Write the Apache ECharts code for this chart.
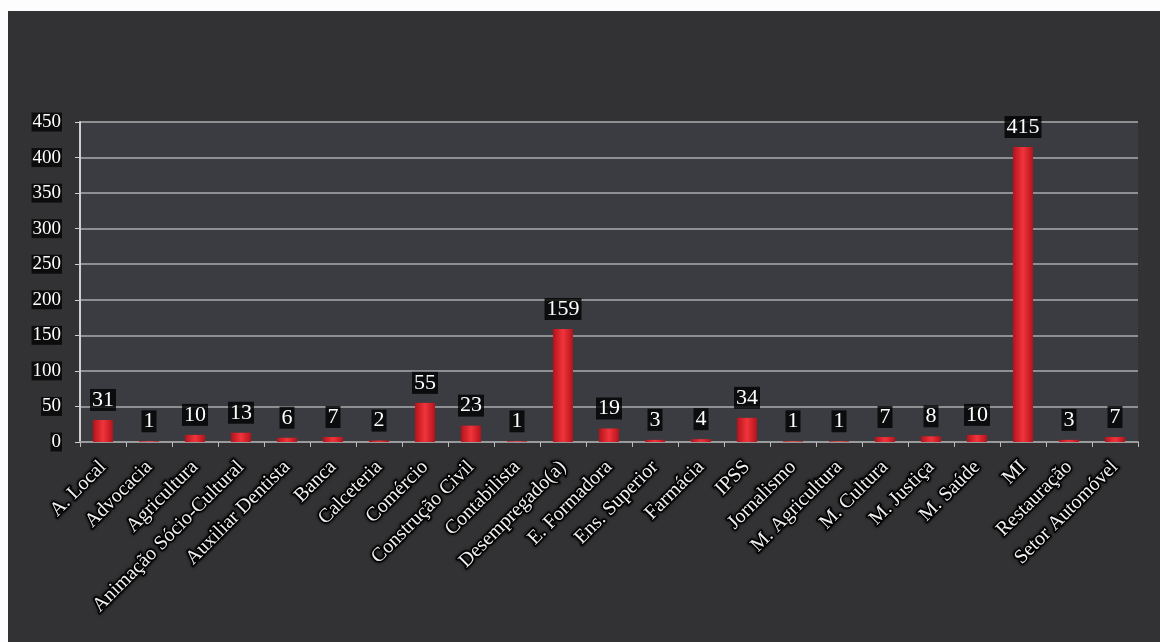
<!DOCTYPE html>
<html>
<head>
<meta charset="utf-8">
<script src="https://cdn.jsdelivr.net/npm/echarts@6/dist/echarts.min.js"></script>
<style>
  html, body { margin: 0; padding: 0; background: #ffffff; }
  #wrap { position: absolute; left: 0; top: 0; width: 1160px; height: 642px; background: #fdfdfd; }
  #chart { position: absolute; left: 8px; top: 11px; width: 1152px; height: 631px; }
</style>
</head>
<body>
<div id="wrap"><div id="chart"></div></div>
<script>
// Number of people per sector
const categories = [
  'A. Local', 'Advocacia', 'Agricultura', 'Animação Sócio-Cultural', 'Auxiliar Dentista',
  'Banca', 'Calceteria', 'Comércio', 'Construção Civil', 'Contabilista',
  'Desempregado(a)', 'E. Formadora', 'Ens. Superior', 'Farmácia', 'IPSS',
  'Jornalismo', 'M. Agricultura', 'M. Cultura', 'M. Justiça', 'M. Saúde',
  'MI', 'Restauração', 'Setor Automóvel'
];
const counts = [31, 1, 10, 13, 6, 7, 2, 55, 23, 1, 159, 19, 3, 4, 34, 1, 1, 7, 8, 10, 415, 3, 7];
const yTicks = { min: 0, max: 450, step: 50 };

const serif = '"Liberation Serif", "DejaVu Serif", serif';
const chart = echarts.init(document.getElementById('chart'));

chart.setOption({
  backgroundColor: '#323234',
  animation: false,
  grid: {
    left: 72, right: 22, top: 111, bottom: 200,
    show: true, backgroundColor: '#3a3c41', borderWidth: 0
  },
  xAxis: {
    type: 'category',
    data: categories,
    axisLine: { lineStyle: { color: '#9a9a9a', width: 2 } },
    axisTick: { show: true, alignWithLabel: false, length: 5, lineStyle: { color: '#bbbbbb' } },
    axisLabel: {
      interval: 0, rotate: 45, margin: 22,
      color: '#f0f0f0', fontFamily: serif, fontSize: 20,
      textBorderColor: '#000', textBorderWidth: 3,
      textShadowColor: '#000', textShadowBlur: 3
    }
  },
  yAxis: {
    type: 'value',
    min: yTicks.min, max: yTicks.max, interval: yTicks.step,
    axisLine: { show: true, lineStyle: { color: '#cfcfcf', width: 2 } },
    axisTick: { show: true, length: 5, lineStyle: { color: '#cfcfcf' } },
    splitLine: { lineStyle: { color: '#8e8f92', width: 2 } },
    axisLabel: {
      color: '#ffffff', fontFamily: serif, fontSize: 19, margin: 18,
      backgroundColor: 'rgba(0,0,0,0.75)', padding: [0, 1]
    }
  },
  series: [{
    type: 'bar',
    data: counts,
    barWidth: 20,
    itemStyle: {
      color: new echarts.graphic.LinearGradient(0, 0, 1, 0, [
        { offset: 0, color: '#b3131b' },
        { offset: 0.5, color: '#f2343b' },
        { offset: 1, color: '#b3131b' }
      ])
    },
    label: {
      show: true, position: 'top', distance: 9,
      color: '#ffffff', fontFamily: serif, fontSize: 22,
      backgroundColor: 'rgba(0,0,0,0.8)', padding: [0, 2]
    }
  }]
});
</script>
</body>
</html>
